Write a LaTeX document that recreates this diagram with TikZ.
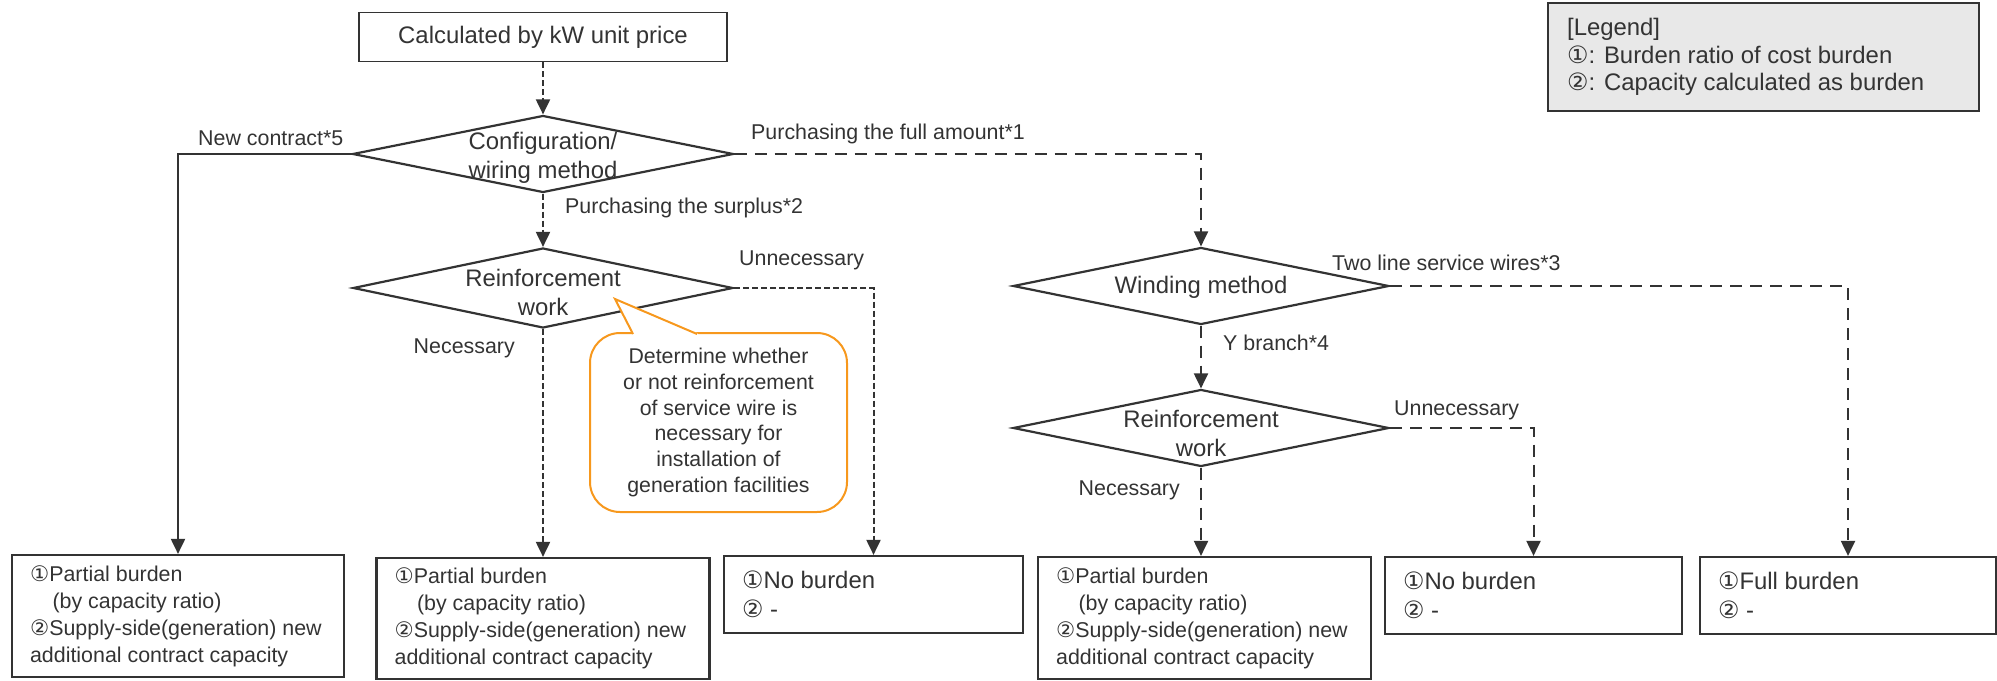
\documentclass[tikz,border=0pt]{standalone}
\usepackage{fontspec}
\setmainfont{Liberation Sans}
\newfontfamily\symfont{DejaVu Sans}
\usetikzlibrary{shapes.geometric,arrows.meta}
\definecolor{ink}{HTML}{333333}
\definecolor{callorange}{RGB}{247,152,29}
\definecolor{legfill}{HTML}{E8E8E8}
\newcommand\cOne{{\symfont ①}}
\newcommand\cTwo{{\symfont ②}}
\newcommand\bigf{\fontsize{23.9}{29}\selectfont}
\newcommand\legf{\fontsize{23.9}{27.5}\selectfont}
\newcommand\smf{\fontsize{21.4}{27}\selectfont}
\newcommand\callf{\fontsize{21.3}{25.7}\selectfont}
\begin{document}
\begin{tikzpicture}[x=1pt,y=-1pt,color=ink,font=\bigf,
  dia/.style={shape=diamond,draw=ink,line width=2.2pt,inner sep=0pt},
  dialbl/.style={align=center,font=\bigf,inner sep=0pt,yshift=-4pt},
  box/.style={draw=ink,line width=2.2pt,inner sep=0pt},
  boxtxt/.style={anchor=west,align=left,inner sep=0pt,xshift=19pt},
  lbl/.style={font=\smf,inner sep=0pt},
  conn/.style={line width=2pt,-{Triangle[length=15pt,width=14pt]}},
  dshort/.style={dash pattern=on 6pt off 3pt},
  dlong/.style={dash pattern=on 12pt off 8pt}]
\useasboundingbox (0,0) rectangle (1997,680);

% top box
\node[draw=ink,line width=1.5pt,minimum width=368pt,minimum height=49pt,inner sep=0pt] (top) at (543,37) {Calculated by kW unit price};

% diamonds
\node[dia,minimum width=381pt,minimum height=77pt,
  label={[dialbl]center:Configuration/\\wiring method}] (d1) at (543,154) {};
\node[dia,minimum width=380pt,minimum height=80pt,
  label={[dialbl]center:Reinforcement\\work}] (d2) at (543,288) {};
\node[dia,minimum width=376pt,minimum height=77pt,
  label={[dialbl,yshift=3pt]center:Winding method}] (d3) at (1201,286) {};
\node[dia,minimum width=376pt,minimum height=77pt,
  label={[dialbl,yshift=-1pt]center:Reinforcement\\work}] (d4) at (1201,428) {};

% result boxes
\node[box,minimum width=332pt,minimum height=122pt,
  label={[boxtxt,font=\smf]west:{\cOne Partial burden\\\hspace*{1.05em}(by capacity ratio)\\\cTwo Supply-side(generation) new\\additional contract capacity}}] (b1) at (178,616) {};
\node[box,minimum width=333pt,minimum height=121pt,
  label={[boxtxt,font=\smf]west:{\cOne Partial burden\\\hspace*{1.05em}(by capacity ratio)\\\cTwo Supply-side(generation) new\\additional contract capacity}}] (b2) at (543,618.5) {};
\node[box,minimum width=299pt,minimum height=77pt,
  label={[boxtxt,font=\bigf]west:{\cOne No burden\\{\cTwo} -}}] (b3) at (873.5,594.5) {};
\node[box,minimum width=333pt,minimum height=122pt,
  label={[boxtxt,font=\smf]west:{\cOne Partial burden\\\hspace*{1.05em}(by capacity ratio)\\\cTwo Supply-side(generation) new\\additional contract capacity}}] (b4) at (1204.5,618) {};
\node[box,minimum width=297pt,minimum height=77pt,
  label={[boxtxt,font=\bigf]west:{\cOne No burden\\{\cTwo} -}}] (b5) at (1533.5,595.5) {};
\node[box,minimum width=296pt,minimum height=77pt,
  label={[boxtxt,font=\bigf]west:{\cOne Full burden\\{\cTwo} -}}] (b6) at (1848,595.5) {};

% legend
\node[draw=ink,line width=2.2pt,fill=legfill,minimum width=431pt,minimum height=108pt,inner sep=0pt,
  label={[anchor=west,align=left,inner sep=0pt,xshift=20pt,font=\legf]west:{{[}Legend]\\\cOne: Burden ratio of cost burden\\\cTwo: Capacity calculated as burden}}] (legend) at (1763.5,57) {};

% callout
\node[draw=callorange,line width=2pt,fill=white,rounded corners=30pt,minimum width=257pt,minimum height=179pt,
  inner sep=0pt,align=center,font=\callf] (call) at (718.5,422.5)
  {Determine whether\\or not reinforcement\\of service wire is\\necessary for\\installation of\\generation facilities};
\coordinate (tip) at (615,299);
\fill[white] (632,336) -- (633,333) -- (tip) -- (697,333) -- (699,336) -- cycle;
\draw[callorange,line width=2pt,line join=miter] (633,334) -- (tip) -- (697,334);

% connectors
\draw[conn,dshort] (top.south) -- (d1.north);
\draw[conn] (d1.west) -| (b1.north);
\draw[conn,dshort] (d1.south) -- (d2.north);
\draw[conn,dlong] (d1.east) -| (d3.north);
\draw[conn,dshort] (d2.south) -- (d2.south |- b2.north);
\draw[conn,dshort] (d2.east) -| (b3.north);
\draw[conn,dlong] (d3.east) -| (b6.north);
\draw[conn,dlong] (d3.south) -- (d4.north);
\draw[conn,dlong] (d4.east) -| (b5.north);
\draw[conn,dlong] (d4.south) -- (d4.south |- b4.north);

% connector labels
\node[lbl,anchor=west] (lnew) at (198,138) {New contract*5};
\node[lbl,anchor=west] (lfull) at (751,134) {Purchasing the full amount*1};
\node[lbl,anchor=west] (lsur) at (565,208) {Purchasing the surplus*2};
\node[lbl,anchor=west] (lun1) at (739,260) {Unnecessary};
\node[lbl,anchor=east] (lnec1) at (515,348) {Necessary};
\node[lbl,anchor=west] (ltwo) at (1332,263) {Two line service wires*3};
\node[lbl,anchor=west] (lyb) at (1223,343) {Y branch*4};
\node[lbl,anchor=west] (lun2) at (1394,410) {Unnecessary};
\node[lbl,anchor=east] (lnec2) at (1180,490) {Necessary};
\end{tikzpicture}
\end{document}
